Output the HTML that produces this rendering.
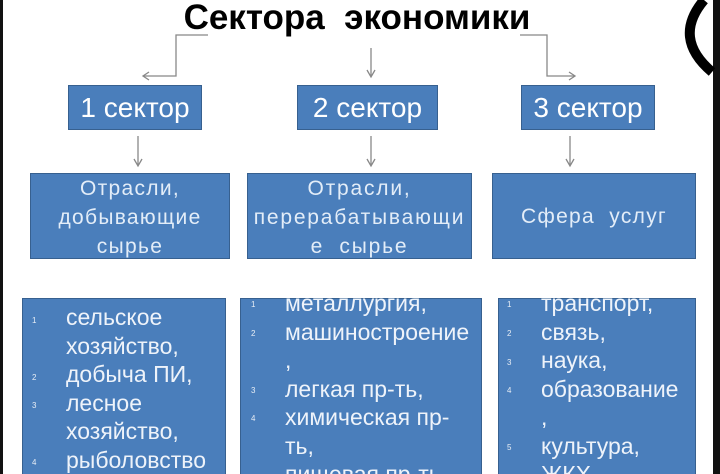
<!DOCTYPE html>
<html style="overflow:hidden"><head><meta charset="utf-8"><style>
html,body{margin:0;width:720px;height:474px;overflow:hidden}
body{background:#fff;position:relative;font-family:"Liberation Sans",sans-serif}
.b{position:absolute;background:#4a7ebb;border:1.5px solid #37608f;box-sizing:border-box;color:#fff}
.s{font-size:28px;display:flex;align-items:center;justify-content:center}
.m{font-size:21px;letter-spacing:1.3px;text-align:center;color:#e3edf8;line-height:29px}
.t{position:absolute;color:#eef3fa;font-size:23px;line-height:28.5px;white-space:nowrap}
.n{position:absolute;color:#e8eef5;font-size:8px}
</style></head><body>
<div style="position:absolute;left:0;top:0;width:3px;height:474px;background:#111"></div>
<div style="position:absolute;left:713px;top:0;width:7px;height:474px;background:#111"></div>
<svg style="position:absolute;left:0;top:0" width="720" height="474">
<path d="M704 0 Q672 38 712 72" stroke="#000" stroke-width="10" fill="none"/>
<g stroke="#888" stroke-width="1.3" fill="none">
<path d="M208 35 H176 V76 H143"/><path d="M149 72 L143 76 L149 80"/>
<path d="M520 35 H547 V76 H575"/><path d="M569 72 L575 76 L569 80"/>
<path d="M371 48 V76"/><path d="M367 70 L371 77 L375 70"/>
<path d="M138 136 V165"/><path d="M134 159 L138 166 L142 159"/>
<path d="M371 136 V165"/><path d="M367 159 L371 166 L375 159"/>
<path d="M570 136 V165"/><path d="M566 159 L570 166 L574 159"/>
</g></svg>
<div style="position:absolute;left:0;width:714px;top:-1px;text-align:center;font-size:35px;font-weight:bold;line-height:38px">Сектора&nbsp; экономики</div>
<div class="b s" style="left:68px;top:85px;width:134px;height:45px">1 сектор</div>
<div class="b s" style="left:297px;top:85px;width:141px;height:45px">2 сектор</div>
<div class="b s" style="left:521px;top:85px;width:134px;height:45px">3 сектор</div>
<div class="b m" style="left:30px;top:173px;width:200px;height:86px">Отрасли,<br>добывающие<br>сырье</div>
<div class="b m" style="left:247px;top:173px;width:225px;height:86px;letter-spacing:1.8px">Отрасли,<br>перерабатывающи<br>е&nbsp; сырье</div>
<div class="b m" style="left:492px;top:173px;width:204px;height:86px;line-height:86px">Сфера&nbsp; услуг</div>
<div class="b" style="left:22px;top:298px;width:204px;height:190px"></div>
<div class="b" style="left:240px;top:298px;width:242px;height:190px"></div>
<div class="b" style="left:498px;top:298px;width:198px;height:190px"></div>
<div class="t" style="left:66px;top:303px">сельское<br>хозяйство,<br>добыча ПИ,<br>лесное<br>хозяйство,<br>рыболовство</div>
<div class="n" style="left:32px;top:316px">1</div><div class="n" style="left:32px;top:373px">2</div><div class="n" style="left:32px;top:401px">3</div><div class="n" style="left:32px;top:458px">4</div>
<div class="t" style="left:285px;top:289px">металлургия,<br>машиностроение<br>,<br>легкая пр-ть,<br>химическая пр-<br>ть,<br>пищевая пр-ть</div>
<div class="n" style="left:251px;top:300px">1</div><div class="n" style="left:251px;top:329px">2</div><div class="n" style="left:251px;top:386px">3</div><div class="n" style="left:251px;top:414px">4</div>
<div class="t" style="left:541px;top:289px">транспорт,<br>связь,<br>наука,<br>образование<br>,<br>культура,<br>ЖКХ</div>
<div class="n" style="left:507px;top:300px">1</div><div class="n" style="left:507px;top:329px">2</div><div class="n" style="left:507px;top:358px">3</div><div class="n" style="left:507px;top:386px">4</div><div class="n" style="left:507px;top:443px">5</div>
</body></html>
